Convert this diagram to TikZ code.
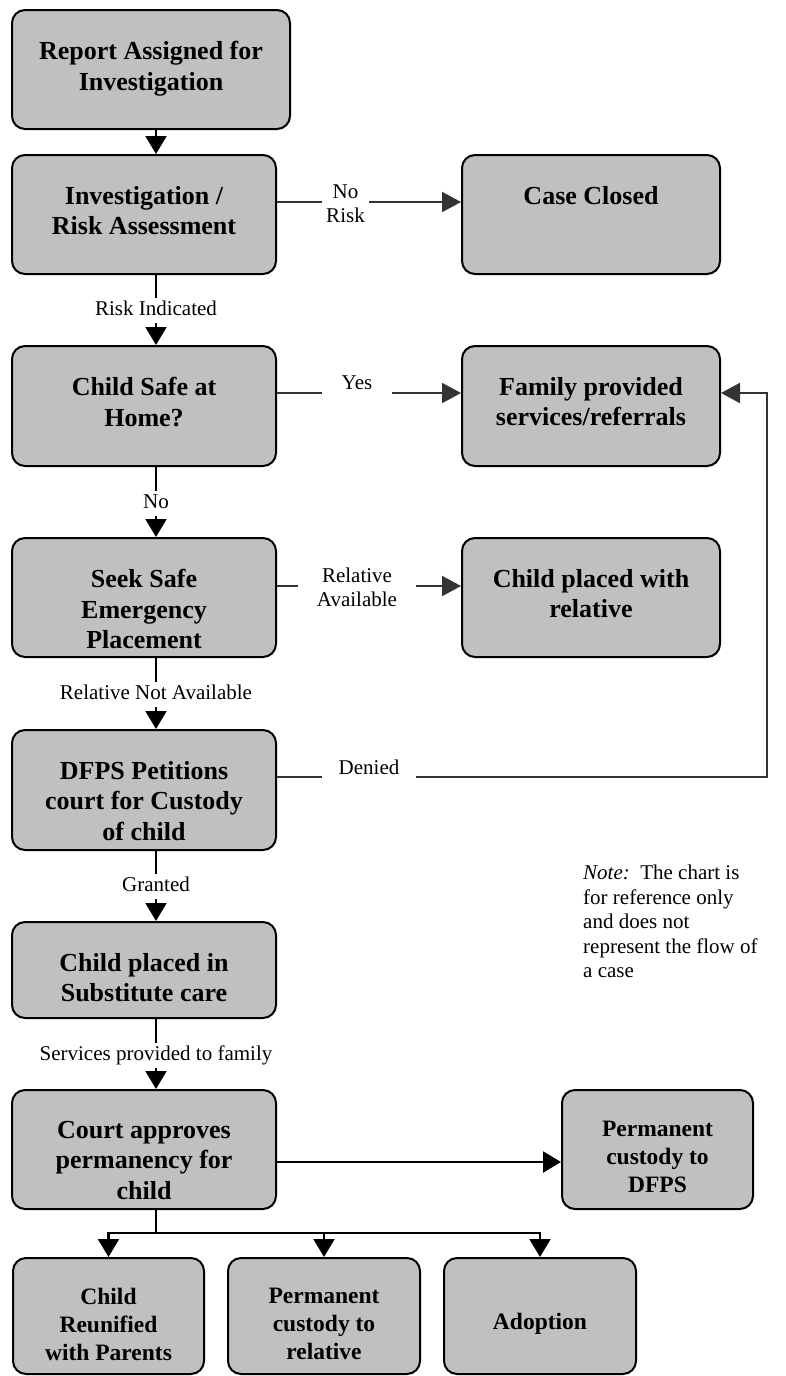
\documentclass[tikz,border=0pt]{standalone}
\usepackage{fontspec}
\setmainfont{Liberation Serif}
\usetikzlibrary{arrows.meta}
\definecolor{boxgray}{RGB}{192,192,192}
\definecolor{linegray}{RGB}{51,51,51}
\begin{document}
\begin{tikzpicture}[x=1pt,y=-1pt,
 box/.style={draw=black, line width=2pt, fill=boxgray, rounded corners=13pt, inner sep=0pt},
 btext/.style={anchor=north, align=center, inner sep=0pt, font=\fontsize{26}{30.5}\selectfont\bfseries},
 stext/.style={anchor=north, align=center, inner sep=0pt, font=\fontsize{23.5}{28}\selectfont\bfseries},
 lbl/.style={fill=white, inner xsep=3pt, inner ysep=3pt, text height=14.5pt, text depth=4.5pt, font=\fontsize{21}{24}\selectfont},
 hlbl/.style={fill=white, inner sep=0pt, align=center, font=\fontsize{21}{24}\selectfont},
 vconn/.style={line width=2.2pt, black, -{Triangle[length=18pt,width=21pt]}},
 hconn/.style={line width=2pt, linegray, -{Triangle[length=19pt,width=20pt]}},
 bconn/.style={line width=2.2pt, black, -{Triangle[length=18pt,width=21pt]}},
]
\useasboundingbox (0,0) rectangle (786,1376);

% boxes
\node[box, minimum width=278pt, minimum height=119pt] (b1) at (151,69.5) {};
\node[box, minimum width=264pt, minimum height=119pt] (b2) at (144,214.5) {};
\node[box, minimum width=258pt, minimum height=119pt] (cc) at (591,214.5) {};
\node[box, minimum width=264pt, minimum height=120pt] (b3) at (144,406) {};
\node[box, minimum width=258pt, minimum height=120pt] (fam) at (591,406) {};
\node[box, minimum width=264pt, minimum height=119pt] (b4) at (144,597.5) {};
\node[box, minimum width=258pt, minimum height=119pt] (rel) at (591,597.5) {};
\node[box, minimum width=264pt, minimum height=120pt] (b5) at (144,790) {};
\node[box, minimum width=264pt, minimum height=96pt] (b6) at (144,970) {};
\node[box, minimum width=264pt, minimum height=119pt] (b7) at (144,1149.5) {};
\node[box, minimum width=191pt, minimum height=119pt] (dfps) at (657.5,1149.5) {};
\node[box, minimum width=191pt, minimum height=116pt] (c1) at (108.5,1316) {};
\node[box, minimum width=192pt, minimum height=116pt] (c2) at (324,1316) {};
\node[box, minimum width=192pt, minimum height=116pt] (c3) at (540,1316) {};

% box texts
\node[btext] (t1) at ([yshift=-32pt]b1.north) {Report Assigned for\\Investigation};
\node[btext] (t2) at ([yshift=-32pt]b2.north) {Investigation /\\Risk Assessment};
\node[btext] (tcc) at ([yshift=-32pt]cc.north) {Case Closed};
\node[btext] (t3) at ([yshift=-32pt]b3.north) {Child Safe at\\Home?};
\node[btext] (tfam) at ([yshift=-32pt]fam.north) {Family provided\\services/referrals};
\node[btext] (t4) at ([yshift=-32pt]b4.north) {Seek Safe\\Emergency\\Placement};
\node[btext] (trel) at ([yshift=-32pt]rel.north) {Child placed with\\relative};
\node[btext] (t5) at ([yshift=-32pt]b5.north) {DFPS Petitions\\court for Custody\\of child};
\node[btext] (t6) at ([yshift=-32pt]b6.north) {Child placed in\\Substitute care};
\node[btext] (t7) at ([yshift=-32pt]b7.north) {Court approves\\permanency for\\child};
\node[stext] (tdfps) at ([yshift=-32pt]dfps.north) {Permanent\\custody to\\DFPS};
\node[stext] (tc1) at ([yshift=-31pt]c1.north) {Child\\Reunified\\with Parents};
\node[stext] (tc2) at ([yshift=-31pt]c2.north) {Permanent\\custody to\\relative};
\node[stext] (tc3) at ([yshift=-56pt]c3.north) {Adoption};

% connectors
\coordinate (vx) at (156,0);
\draw[vconn] (b1.south -| vx) -- (b2.north -| vx);
\draw[vconn] (b2.south -| vx) -- (b3.north -| vx);
\draw[vconn] (b3.south -| vx) -- (b4.north -| vx);
\draw[vconn] (b4.south -| vx) -- (b5.north -| vx);
\draw[vconn] (b5.south -| vx) -- (b6.north -| vx);
\draw[vconn] (b6.south -| vx) -- (b7.north -| vx);

\draw[hconn] ([yshift=12.5pt]b2.east) -- ([yshift=12.5pt]cc.west);
\draw[hconn] ([yshift=13pt]b3.east) -- ([yshift=13pt]fam.west);
\draw[hconn] ([yshift=11.5pt]b4.east) -- ([yshift=11.5pt]rel.west);
\coordinate (fb1) at (767,777);
\coordinate (fb2) at (767,393);
\draw[hconn] ([yshift=13pt]b5.east) -- (fb1) -- (fb2) -- ([yshift=13pt]fam.east);

\draw[bconn] ([yshift=-12.5pt]b7.east) -- ([yshift=-12.5pt]dfps.west);
\coordinate (br) at (156,1233);
\draw[line width=2.2pt, black] (b7.south -| vx) -- (br);
\draw[bconn] (br) -| (c1.north);
\draw[bconn] (br) -| (c2.north);
\draw[bconn] (br) -| (c3.north);

% labels
\node[lbl] (lri) at (156,310) {Risk Indicated};
\node[lbl] (lno) at (156,503) {No};
\node[lbl] (lrna) at (156,694.5) {Relative Not Available};
\node[lbl] (lgr) at (156,886.5) {Granted};
\node[lbl] (lsp) at (156,1055) {Services provided to family};
\node[hlbl, minimum width=47pt, minimum height=50pt] (lnr) at (345.5,204) {No\\Risk};
\node[hlbl, minimum width=70pt, minimum height=28pt] (lyes) at (357,383) {Yes};
\node[hlbl, minimum width=118pt, minimum height=50pt] (lra) at (357,587.5) {Relative\\Available};
\node[hlbl, minimum width=94pt, minimum height=28pt] (lden) at (369,767) {Denied};

% note
\node[anchor=north west, align=left, inner sep=0pt, font=\fontsize{21}{24.5}\selectfont] (note) at (583,865) {\textit{Note:}\ \ The chart is\\for reference only\\and does not\\represent the flow of\\a case};
\end{tikzpicture}
\end{document}
